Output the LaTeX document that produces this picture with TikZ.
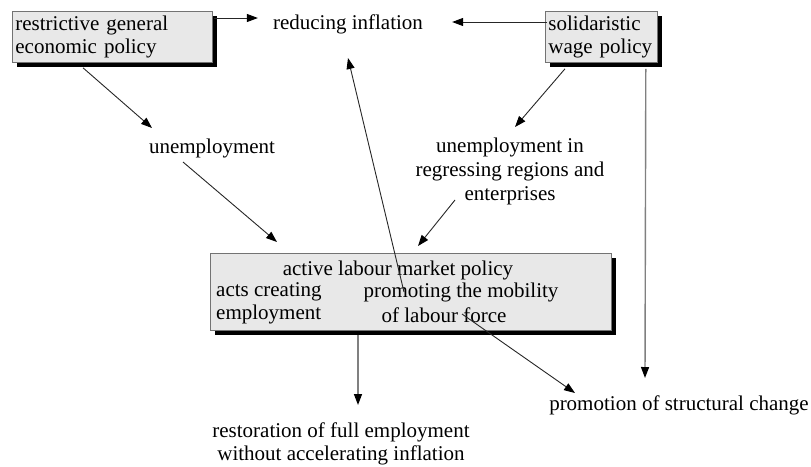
\documentclass[tikz,border=0pt]{standalone}
\usepackage{fontspec}
\setmainfont{Liberation Serif}
\usetikzlibrary{arrows.meta,shadows,calc}
\begin{document}
\begin{tikzpicture}[x=1pt,y=-1pt,
  every node/.style={font=\fontsize{21}{23}\selectfont, inner sep=0pt},
  policybox/.style={draw=black!55, line width=0.8pt, fill=black!9,
    general shadow={fill=black, shadow xshift=4.5pt, shadow yshift=-5pt},
    anchor=north west, inner sep=3pt, align=left},
  arr/.style={-{Triangle[length=11pt,width=8pt,color=black]}, line width=0.9pt, draw=black!85},
  garr/.style={arr, draw=black!50, line width=1.4pt}]
\useasboundingbox (0,0) rectangle (811,466);

% policy boxes
\node[policybox, minimum width=200pt, minimum height=51pt, text width=194pt] (box1) at (12,11)
  {restrictive general\\economic policy};
\node[policybox, minimum width=112pt, minimum height=51pt, text width=106pt] (box2) at (545,11)
  {solidaristic\\wage policy};
\node[policybox, minimum width=401pt, minimum height=77pt] (alm) at (210,253) {};

% contents of the labour market box
\node (almt) at (398,270) {active labour market policy};
\node[anchor=west, align=left] (acts) at (216,303.5) {acts creating\\employment};
\node (prom1) at (461,292) {promoting the mobility};
\node (prom2) at (444,315) {of labour force};

% outcomes
\node (reducing) at (348,24) {reducing inflation};
\node (unemp) at (212,148) {unemployment};
\node[align=center, font=\fontsize{21}{24}\selectfont] (regress) at (510,171)
  {unemployment in\\regressing regions and\\enterprises};
\node (promo) at (679,405) {promotion of structural change};
\node[align=center] (restore) at (341,444)
  {restoration of full employment\\without accelerating inflation};

% connectors
\draw[arr] ($(box1.north east)+(1,7)$) -- ($(reducing.west)+(-15,-6)$);
\draw[arr] ($(box2.north west)+(2,11)$) -- ($(reducing.east)+(29,-2)$);
\draw[arr] ($(box1.south west)+(71,5)$) -- ($(unemp.center)+(-60,-20)$);
\draw[arr] ($(unemp.center)+(-29,14)$) -- ($(alm.north west)+(67,-11)$);
\draw[arr] ($(box2.south west)+(20,6)$) -- ($(regress.center)+(5,-44)$);
\draw[arr] ($(regress.center)+(-55,29)$) -- ($(alm.north west)+(208,-7)$);
\draw[arr] ($(alm.north west)+(194,39)$) -- ($(reducing.center)+(0,34)$);
\draw[arr] ($(alm.north west)+(252,61)$) -- ($(promo.center)+(-104,-12)$);
\draw[garr] ($(alm.south west)+(148,4)$) -- ($(restore.center)+(17,-39)$);
\draw[garr] ($(box2.south east)+(-12,6)$) -- ($(promo.center)+(-34,-27)$);
\end{tikzpicture}
\end{document}
